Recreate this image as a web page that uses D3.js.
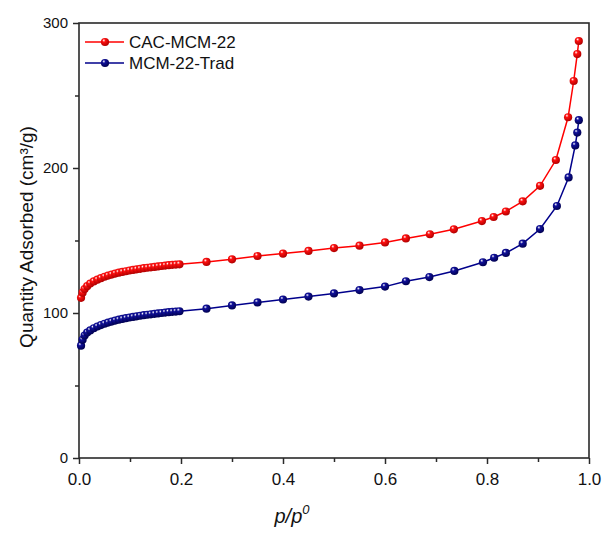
<!DOCTYPE html>
<html><head><meta charset="utf-8">
<script src="https://cdn.jsdelivr.net/npm/d3@7"></script>
<style>body{margin:0;background:#fff;} svg{display:block;}</style>
</head><body>
<svg id="c" width="603" height="534"></svg>
<script>
const seriesNames = ["CAC-MCM-22", "MCM-22-Trad"];
const pRel = [0.004,0.007,0.011,0.016,0.022,0.029,0.036,0.043,0.050,0.057,0.064,0.071,0.078,0.085,0.092,0.099,0.106,0.113,0.120,0.127,0.134,0.141,0.148,0.155,0.162,0.169,0.176,0.183,0.190,0.197,
  0.25,0.30,0.35,0.40,0.45,0.50,0.55,0.60,0.641,0.688,0.735,0.790,0.813,0.837,0.870,0.904,0.935,0.959,0.970,0.977,0.980];
const cacValues = [110.5,114,116.5,118.5,120.3,121.8,123,124,125,125.8,126.5,127.2,127.8,128.3,128.8,129.3,129.7,130.1,130.5,130.9,131.2,131.5,131.8,132.1,132.4,132.7,133.0,133.2,133.4,133.6,
  135.2,137,139.3,141,142.8,144.8,146.4,148.7,151.4,154.3,157.7,163.4,166.2,170,177,187.7,205.5,235,260,278.6,287.6];
const pRelTrad = [0.004,0.007,0.011,0.016,0.022,0.029,0.036,0.043,0.050,0.057,0.064,0.071,0.078,0.085,0.092,0.099,0.106,0.113,0.120,0.127,0.134,0.141,0.148,0.155,0.162,0.169,0.176,0.183,0.190,0.197,
  0.25,0.30,0.35,0.40,0.45,0.50,0.55,0.60,0.641,0.687,0.736,0.792,0.814,0.837,0.870,0.904,0.937,0.960,0.973,0.977,0.980];
const tradValues = [77.5,81.5,84.5,86.5,88,89.5,90.7,91.7,92.6,93.4,94.1,94.8,95.4,95.9,96.4,96.9,97.3,97.7,98.1,98.5,98.8,99.1,99.4,99.7,100,100.3,100.6,100.8,101.0,101.2,
  103,105.2,107.3,109.3,111.3,113.5,115.8,118.2,121.9,124.8,129,135,138.1,141.4,147.8,157.9,173.8,193.5,215.6,224.4,233];
const xTicks = [0,0.2,0.4,0.6,0.8,1.0];
const xMinor = [0.1,0.3,0.5,0.7,0.9];
const yTicks = [0,100,200,300];
const yMinor = [50,150,250];

const svg = d3.select("#c");
const L = 79, R = 589, T = 23, B = 458;
const x = d3.scaleLinear().domain([0,1]).range([L,R]);
const y = d3.scaleLinear().domain([0,300]).range([B,T]);
const font = "'Liberation Sans', Arial, sans-serif";
const axisColor = "#2a2a2a";

const defs = svg.append("defs");
function grad(id, c, dark){
  const g = defs.append("radialGradient").attr("id",id).attr("cx","40%").attr("cy","35%").attr("r","65%").attr("fx","35%").attr("fy","30%");
  g.append("stop").attr("offset","0%").attr("stop-color","#ffffff");
  g.append("stop").attr("offset","30%").attr("stop-color",c);
  g.append("stop").attr("offset","100%").attr("stop-color",dark);
}
grad("gr","#ff1010","#b00000");
grad("gb","#10109a","#000050");

// axes
const xAxis = d3.axisBottom(x).tickValues(xTicks).tickFormat(d3.format(".1f")).tickSizeOuter(0).tickSize(6).tickPadding(9);
const gx = svg.append("g").attr("transform",`translate(0,${B})`).call(xAxis);
const gxm = svg.append("g").attr("transform",`translate(0,${B})`).call(d3.axisBottom(x).tickValues(xMinor).tickFormat("").tickSize(4).tickSizeOuter(0));
const yAxis = d3.axisLeft(y).tickValues(yTicks).tickFormat(d3.format("d")).tickSizeOuter(0).tickSize(6).tickPadding(5);
const gy = svg.append("g").attr("transform",`translate(${L},0)`).call(yAxis);
const gym = svg.append("g").attr("transform",`translate(${L},0)`).call(d3.axisLeft(y).tickValues(yMinor).tickFormat("").tickSize(4).tickSizeOuter(0));
[gx,gxm,gy,gym].forEach(g=>{
  g.selectAll(".domain").remove();
  g.selectAll("line").attr("stroke",axisColor).attr("stroke-width",1.5);
  g.selectAll("text").attr("fill","#111").style("font-family",font);
});
gx.selectAll("text").style("font-size","17px");
gy.selectAll("text").style("font-size","15px");
svg.append("rect").attr("x",L).attr("y",T).attr("width",R-L).attr("height",B-T)
  .attr("fill","none").attr("stroke",axisColor).attr("stroke-width",1.6);

// data
const series = [
  {name:seriesNames[0], xs:pRel, ys:cacValues, color:"#ff0000", g:"url(#gr)"},
  {name:seriesNames[1], xs:pRelTrad, ys:tradValues, color:"#00008b", g:"url(#gb)"}
];
const line = d3.line().x(d=>x(d[0])).y(d=>y(d[1]));
series.forEach(s=>{
  const pts = s.xs.map((v,i)=>[v,s.ys[i]]);
  svg.append("path").datum(pts).attr("d",line).attr("fill","none").attr("stroke",s.color).attr("stroke-width",1.5);
  svg.append("g").selectAll("circle").data(pts).join("circle")
    .attr("cx",d=>x(d[0])).attr("cy",d=>y(d[1])).attr("r",4.1).attr("fill",s.g);
});

// legend
series.forEach((s,i)=>{
  const ly = 42 + i*21;
  svg.append("line").attr("x1",85).attr("x2",124).attr("y1",ly).attr("y2",ly).attr("stroke",s.color).attr("stroke-width",1.5);
  svg.append("circle").attr("cx",105).attr("cy",ly).attr("r",4.1).attr("fill",s.g);
  svg.append("text").attr("x",129).attr("y",ly+6).text(s.name).style("font-family",font).style("font-size","17px").attr("fill","#111");
});

// axis titles
svg.append("text").attr("transform",`translate(33,237) rotate(-90)`).attr("text-anchor","middle")
  .style("font-family",font).style("font-size","19px").attr("fill","#111").text("Quantity Adsorbed (cm³/g)");
const xt = svg.append("text").attr("x",292).attr("y",523).attr("text-anchor","middle")
  .style("font-family",font).style("font-size","20px").style("font-style","italic").attr("fill","#111");
xt.append("tspan").text("p/p");
xt.append("tspan").attr("dy",-9).style("font-size","13px").text("0");
</script>
</body></html>
